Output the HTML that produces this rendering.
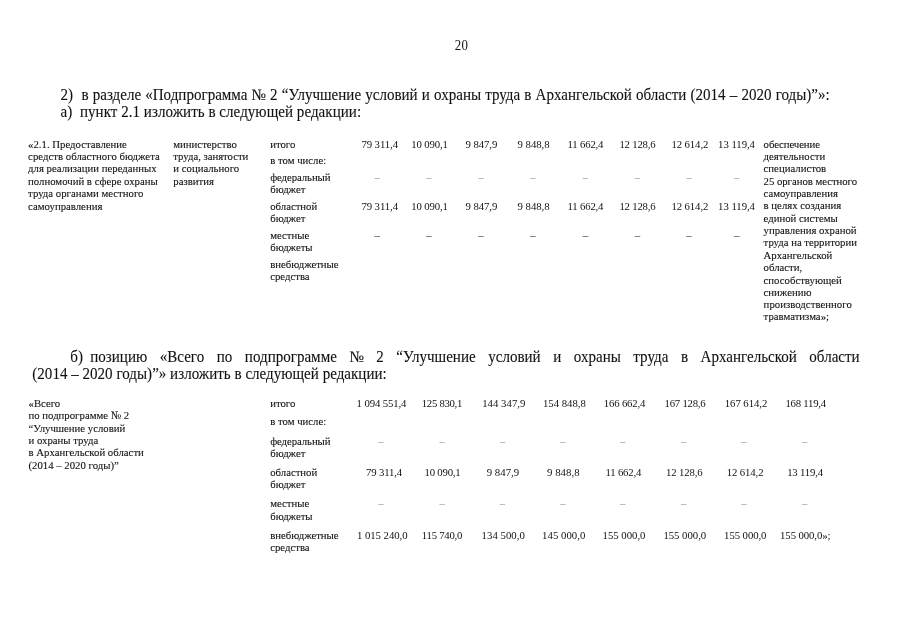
<!DOCTYPE html>
<html lang="ru"><head><meta charset="utf-8"><title>20</title>
<style>
html,body{margin:0;padding:0;background:#fff;}
body{width:905px;height:640px;position:relative;overflow:hidden;font-family:"Liberation Serif", "Times New Roman", serif;font-size:10.75px;color:#111;}
.t{position:absolute;white-space:pre;line-height:12px;transform-origin:0 10px;transform:scaleY(1.05);-webkit-text-stroke:0.1px #111;}
.t.n{-webkit-text-stroke:0;}
.t.m{font-size:15.05px;line-height:16px;transform-origin:0 13px;transform:scaleY(1.06);}
.t.p{font-size:12.9px;line-height:14px;transform-origin:0 11px;}
.t.d{transform:none;}
.t.lt{color:#8a8a8a;-webkit-text-stroke:0;}
</style></head><body>
<div class="g" id="pn">
<span class="t n p" style="left:454.70px;top:39px;letter-spacing:0.455px;">20</span>
</div>
<div class="g" id="h1">
<span class="t m" style="left:60.60px;top:87px;word-spacing:0.388px;">2)  в разделе «Подпрограмма № 2 “Улучшение условий и охраны труда в Архангельской области (2014 – 2020 годы)”»:</span>
<span class="t m" style="left:60.60px;top:104px;letter-spacing:0.030px;">а)  пункт 2.1 изложить в следующей редакции:</span>
</div>
<div class="g" id="t1c1">
<span class="t" style="left:28.10px;top:138px;">«2.1. Предоставление</span>
<span class="t" style="left:28.10px;top:150px;letter-spacing:0.024px;">средств областного бюджета</span>
<span class="t" style="left:28.10px;top:162px;">для реализации переданных</span>
<span class="t" style="left:28.10px;top:175px;">полномочий в сфере охраны</span>
<span class="t" style="left:28.10px;top:187px;">труда органами местного</span>
<span class="t" style="left:28.10px;top:200px;">самоуправления</span>
</div>
<div class="g" id="t1c2">
<span class="t" style="left:173.30px;top:138px;">министерство</span>
<span class="t" style="left:173.30px;top:150px;letter-spacing:-0.031px;">труда, занятости</span>
<span class="t" style="left:173.30px;top:162px;">и социального</span>
<span class="t" style="left:173.30px;top:175px;">развития</span>
</div>
<div class="g" id="t1c3">
<span class="t" style="left:270.20px;top:138px;">итого</span>
<span class="t" style="left:270.20px;top:154px;">в том числе:</span>
<span class="t" style="left:270.20px;top:171px;letter-spacing:-0.082px;">федеральный</span>
<span class="t" style="left:270.20px;top:183px;">бюджет</span>
<span class="t" style="left:270.20px;top:200px;">областной</span>
<span class="t" style="left:270.20px;top:212px;">бюджет</span>
<span class="t" style="left:270.20px;top:229px;">местные</span>
<span class="t" style="left:270.20px;top:241px;">бюджеты</span>
<span class="t" style="left:270.20px;top:258px;letter-spacing:-0.014px;">внебюджетные</span>
<span class="t" style="left:270.20px;top:270px;">средства</span>
</div>
<div class="g" id="t1r148">
<span class="t n" style="left:361.40px;top:138px;letter-spacing:-0.079px;">79 311,4</span>
<span class="t n" style="left:411.30px;top:138px;letter-spacing:-0.164px;">10 090,1</span>
<span class="t n" style="left:465.60px;top:138px;letter-spacing:-0.096px;">9 847,9</span>
<span class="t n" style="left:517.60px;top:138px;letter-spacing:-0.046px;">9 848,8</span>
<span class="t n" style="left:567.50px;top:138px;letter-spacing:-0.179px;">11 662,4</span>
<span class="t n" style="left:619.40px;top:138px;letter-spacing:-0.193px;">12 128,6</span>
<span class="t n" style="left:671.40px;top:138px;letter-spacing:-0.093px;">12 614,2</span>
<span class="t n" style="left:718.10px;top:138px;letter-spacing:-0.050px;">13 119,4</span>
</div>
<div class="g" id="t1r210">
<span class="t n" style="left:361.40px;top:200px;letter-spacing:-0.079px;">79 311,4</span>
<span class="t n" style="left:411.30px;top:200px;letter-spacing:-0.164px;">10 090,1</span>
<span class="t n" style="left:465.60px;top:200px;letter-spacing:-0.096px;">9 847,9</span>
<span class="t n" style="left:517.60px;top:200px;letter-spacing:-0.046px;">9 848,8</span>
<span class="t n" style="left:567.50px;top:200px;letter-spacing:-0.179px;">11 662,4</span>
<span class="t n" style="left:619.40px;top:200px;letter-spacing:-0.193px;">12 128,6</span>
<span class="t n" style="left:671.40px;top:200px;letter-spacing:-0.093px;">12 614,2</span>
<span class="t n" style="left:718.10px;top:200px;letter-spacing:-0.050px;">13 119,4</span>
</div>
<div class="g" id="t1d1">
<span class="t d lt" style="left:374.40px;top:171px;">–</span>
<span class="t d lt" style="left:426.20px;top:171px;">–</span>
<span class="t d lt" style="left:478.20px;top:171px;">–</span>
<span class="t d lt" style="left:530.20px;top:171px;">–</span>
<span class="t d lt" style="left:582.70px;top:171px;">–</span>
<span class="t d lt" style="left:634.70px;top:171px;">–</span>
<span class="t d lt" style="left:686.20px;top:171px;">–</span>
<span class="t d lt" style="left:734.10px;top:171px;">–</span>
</div>
<div class="g" id="t1d2">
<span class="t d" style="left:374.40px;top:229px;">–</span>
<span class="t d" style="left:426.20px;top:229px;">–</span>
<span class="t d" style="left:478.20px;top:229px;">–</span>
<span class="t d" style="left:530.20px;top:229px;">–</span>
<span class="t d" style="left:582.70px;top:229px;">–</span>
<span class="t d" style="left:634.70px;top:229px;">–</span>
<span class="t d" style="left:686.20px;top:229px;">–</span>
<span class="t d" style="left:734.10px;top:229px;">–</span>
</div>
<div class="g" id="t1c9">
<span class="t" style="left:763.60px;top:138px;letter-spacing:-0.085px;">обеспечение</span>
<span class="t" style="left:763.60px;top:150px;">деятельности</span>
<span class="t" style="left:763.60px;top:162px;">специалистов</span>
<span class="t" style="left:763.60px;top:175px;letter-spacing:-0.041px;">25 органов местного</span>
<span class="t" style="left:763.60px;top:187px;">самоуправления</span>
<span class="t" style="left:763.60px;top:199px;">в целях создания</span>
<span class="t" style="left:763.60px;top:212px;">единой системы</span>
<span class="t" style="left:763.60px;top:224px;">управления охраной</span>
<span class="t" style="left:763.60px;top:236px;letter-spacing:-0.018px;">труда на территории</span>
<span class="t" style="left:763.60px;top:249px;">Архангельской</span>
<span class="t" style="left:763.60px;top:261px;">области,</span>
<span class="t" style="left:763.60px;top:274px;">способствующей</span>
<span class="t" style="left:763.60px;top:286px;">снижению</span>
<span class="t" style="left:763.60px;top:298px;letter-spacing:0.030px;">производственного</span>
<span class="t" style="left:763.60px;top:310px;letter-spacing:-0.009px;">травматизма»;</span>
</div>
<div class="g" id="pb">
<span class="t m" style="left:70.30px;top:349px;">б)</span>
<span class="t m" style="left:90.30px;top:349px;word-spacing:8.783px;">позицию «Всего по подпрограмме № 2 “Улучшение условий и охраны труда в Архангельской области</span>
<span class="t m" style="left:32.30px;top:366px;letter-spacing:0.009px;">(2014 – 2020 годы)”» изложить в следующей редакции:</span>
</div>
<div class="g" id="t2c1">
<span class="t" style="left:28.50px;top:397px;">«Всего</span>
<span class="t" style="left:28.50px;top:409px;">по подпрограмме № 2</span>
<span class="t" style="left:28.50px;top:422px;">“Улучшение условий</span>
<span class="t" style="left:28.50px;top:434px;">и охраны труда</span>
<span class="t" style="left:28.50px;top:446px;letter-spacing:0.009px;">в Архангельской области</span>
<span class="t" style="left:28.50px;top:459px;">(2014 – 2020 годы)”</span>
</div>
<div class="g" id="t2c3">
<span class="t" style="left:270.20px;top:397px;">итого</span>
<span class="t" style="left:270.20px;top:415px;">в том числе:</span>
<span class="t" style="left:270.20px;top:435px;letter-spacing:-0.082px;">федеральный</span>
<span class="t" style="left:270.20px;top:447px;">бюджет</span>
<span class="t" style="left:270.20px;top:466px;">областной</span>
<span class="t" style="left:270.20px;top:478px;">бюджет</span>
<span class="t" style="left:270.20px;top:497px;">местные</span>
<span class="t" style="left:270.20px;top:510px;">бюджеты</span>
<span class="t" style="left:270.20px;top:529px;letter-spacing:-0.014px;">внебюджетные</span>
<span class="t" style="left:270.20px;top:541px;">средства</span>
</div>
<div class="g" id="t2r1">
<span class="t n" style="left:356.60px;top:397px;letter-spacing:-0.129px;">1 094 551,4</span>
<span class="t n" style="left:421.80px;top:397px;letter-spacing:-0.303px;">125 830,1</span>
<span class="t n" style="left:482.20px;top:397px;letter-spacing:0.022px;">144 347,9</span>
<span class="t n" style="left:543.00px;top:397px;letter-spacing:-0.016px;">154 848,8</span>
<span class="t n" style="left:603.80px;top:397px;letter-spacing:-0.178px;">166 662,4</span>
<span class="t n" style="left:664.50px;top:397px;letter-spacing:-0.228px;">167 128,6</span>
<span class="t n" style="left:724.80px;top:397px;letter-spacing:-0.066px;">167 614,2</span>
<span class="t n" style="left:785.50px;top:397px;letter-spacing:-0.253px;">168 119,4</span>
</div>
<div class="g" id="t2r2">
<span class="t n" style="left:366.10px;top:466px;letter-spacing:-0.179px;">79 311,4</span>
<span class="t n" style="left:424.60px;top:466px;letter-spacing:-0.221px;">10 090,1</span>
<span class="t n" style="left:486.70px;top:466px;letter-spacing:0.037px;">9 847,9</span>
<span class="t n" style="left:546.90px;top:466px;letter-spacing:0.087px;">9 848,8</span>
<span class="t n" style="left:605.40px;top:466px;letter-spacing:-0.179px;">11 662,4</span>
<span class="t n" style="left:665.90px;top:466px;letter-spacing:-0.121px;">12 128,6</span>
<span class="t n" style="left:726.70px;top:466px;letter-spacing:-0.107px;">12 614,2</span>
<span class="t n" style="left:787.20px;top:466px;letter-spacing:-0.193px;">13 119,4</span>
</div>
<div class="g" id="t2r3">
<span class="t n" style="left:357.00px;top:529px;letter-spacing:-0.049px;">1 015 240,0</span>
<span class="t n" style="left:421.80px;top:529px;letter-spacing:-0.253px;">115 740,0</span>
<span class="t n" style="left:481.60px;top:529px;letter-spacing:0.022px;">134 500,0</span>
<span class="t n" style="left:542.10px;top:529px;letter-spacing:0.022px;">145 000,0</span>
<span class="t n" style="left:602.60px;top:529px;letter-spacing:-0.016px;">155 000,0</span>
<span class="t n" style="left:663.40px;top:529px;letter-spacing:-0.028px;">155 000,0</span>
<span class="t n" style="left:724.10px;top:529px;letter-spacing:-0.078px;">155 000,0</span>
<span class="t n" style="left:780.10px;top:529px;letter-spacing:-0.098px;">155 000,0»;</span>
</div>
<div class="g" id="t2d1">
<span class="t d lt" style="left:378.20px;top:435px;">–</span>
<span class="t d lt" style="left:439.50px;top:435px;">–</span>
<span class="t d lt" style="left:499.70px;top:435px;">–</span>
<span class="t d lt" style="left:560.20px;top:435px;">–</span>
<span class="t d lt" style="left:620.10px;top:435px;">–</span>
<span class="t d lt" style="left:681.10px;top:435px;">–</span>
<span class="t d lt" style="left:741.30px;top:435px;">–</span>
<span class="t d lt" style="left:802.10px;top:435px;">–</span>
</div>
<div class="g" id="t2d2">
<span class="t d lt" style="left:378.20px;top:497px;">–</span>
<span class="t d lt" style="left:439.50px;top:497px;">–</span>
<span class="t d lt" style="left:499.70px;top:497px;">–</span>
<span class="t d lt" style="left:560.20px;top:497px;">–</span>
<span class="t d lt" style="left:620.10px;top:497px;">–</span>
<span class="t d lt" style="left:681.10px;top:497px;">–</span>
<span class="t d lt" style="left:741.30px;top:497px;">–</span>
<span class="t d lt" style="left:802.10px;top:497px;">–</span>
</div>
</body></html>
